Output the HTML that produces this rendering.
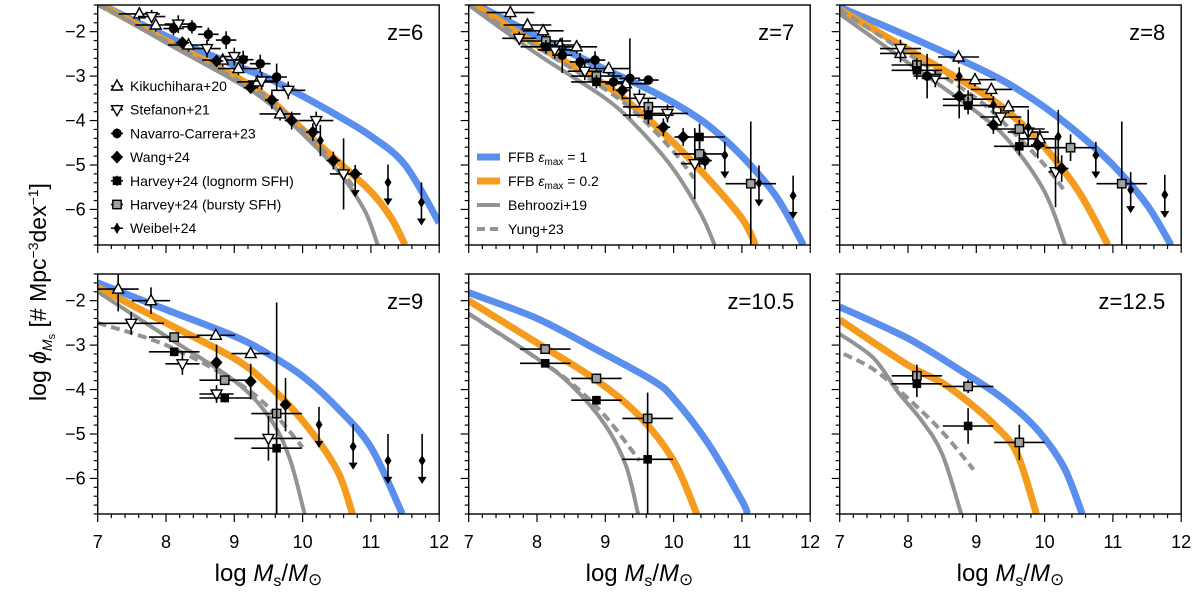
<!DOCTYPE html>
<html><head><meta charset="utf-8"><style>
html,body{margin:0;padding:0;background:#fff;}
svg{display:block;font-family:"Liberation Sans","DejaVu Sans",sans-serif;}
</style></head><body>
<svg id="chart" width="1200" height="600" viewBox="0 0 1200 600" xmlns="http://www.w3.org/2000/svg"></svg>
<script>
// ---- data ----
const panelTitles = ["z=6","z=7","z=8","z=9","z=10.5","z=12.5"];
const xTicks = [7,8,9,10,11,12];
const yTicks = [-2,-3,-4,-5,-6];
const yTickLabels = ["\u22122","\u22123","\u22124","\u22125","\u22126"];
// curves: [logM, logphi]
const ffb1 = [
 [[7,-1.35],[8,-2.1],[9,-2.75],[9.5,-3.05],[10,-3.45],[10.5,-3.88],[11,-4.35],[11.5,-5.0],[12,-6.3]],
 [[7,-1.3],[8,-2.1],[9,-2.85],[9.5,-3.2],[10,-3.6],[10.5,-4.1],[11,-4.8],[11.5,-5.7],[11.9,-6.8]],
 [[7,-1.45],[8,-2.1],[9,-2.8],[9.5,-3.2],[10,-3.7],[10.5,-4.3],[11,-5.0],[11.5,-5.9],[11.85,-6.8]],
 [[7,-1.6],[8,-2.2],[9,-2.8],[9.5,-3.2],[10,-3.7],[10.5,-4.4],[11,-5.3],[11.46,-6.8]],
 [[7,-1.82],[8,-2.4],[8.87,-3.1],[9.7,-3.8],[10,-4.2],[10.5,-5.2],[11,-6.5],[11.08,-6.8]],
 [[7,-2.14],[8,-2.85],[8.8,-3.6],[9.3,-4.1],[9.7,-4.6],[10,-5.1],[10.3,-5.8],[10.55,-6.8]]
];
const ffb02 = [
 [[7,-1.35],[8,-2.2],[9,-3.0],[9.5,-3.5],[10,-4.2],[10.5,-4.9],[11,-5.6],[11.3,-6.2],[11.5,-6.8]],
 [[7,-1.3],[8,-2.3],[9,-3.2],[9.5,-3.8],[10,-4.5],[10.5,-5.3],[11,-6.2],[11.2,-6.8]],
 [[7,-1.5],[8,-2.4],[9,-3.3],[9.5,-3.85],[10,-4.6],[10.5,-5.6],[10.93,-6.8]],
 [[7,-1.7],[8,-2.5],[9,-3.3],[9.5,-3.9],[10,-4.7],[10.5,-5.8],[10.73,-6.8]],
 [[7,-2.0],[8,-2.95],[8.87,-3.79],[9.5,-4.6],[10,-5.6],[10.34,-6.8]],
 [[7,-2.43],[8,-3.45],[8.5,-3.85],[8.9,-4.3],[9.3,-4.85],[9.6,-5.45],[9.88,-6.8]]
];
const behroozi = [
 [[7,-1.35],[8,-2.25],[9,-3.1],[9.5,-3.6],[10,-4.3],[10.5,-5.1],[10.9,-6.0],[11.1,-6.8]],
 [[7,-1.4],[8,-2.5],[9,-3.5],[9.5,-4.2],[10,-5.1],[10.4,-6.1],[10.6,-6.8]],
 [[7,-1.6],[8,-2.7],[9,-3.8],[9.5,-4.5],[10,-5.6],[10.3,-6.8]],
 [[7,-1.8],[8,-2.8],[9,-3.8],[9.5,-4.6],[9.8,-5.5],[10.03,-6.8]],
 [[7,-2.29],[8,-3.3],[8.5,-3.9],[9,-4.8],[9.3,-5.7],[9.48,-6.8]],
 [[7,-2.75],[7.5,-3.3],[7.85,-4.05],[8.2,-4.7],[8.5,-5.45],[8.78,-6.8]]
];
const yung = [
 [[7,-1.4],[8,-2.2],[9,-3.05],[9.5,-3.5],[10,-4.2],[10.5,-5.0],[10.75,-5.5]],
 [[7,-1.4],[8,-2.35],[9,-3.3],[9.5,-3.9],[10,-4.7],[10.3,-5.3]],
 [[7,-1.5],[8,-2.5],[9,-3.5],[9.5,-4.2],[10,-5.0],[10.3,-5.6]],
 [[7,-2.5],[8,-3.0],[9,-3.8],[9.5,-4.4],[10,-5.3]],
 [[7,-2.3],[8,-3.3],[8.5,-3.85],[9,-4.6],[9.5,-5.6]],
 [[7.06,-3.2],[7.5,-3.55],[8,-4.2],[8.5,-4.95],[8.96,-5.8]]
];
// observations: [type, logM, logphi, xerr, yerr, upperLimit]
const obs = [
 [["K",7.61,-1.6,0.3,0.15,0],["K",7.85,-1.85,0.3,0.15,0],["K",8.33,-2.3,0.3,0.15,0],["K",8.83,-2.64,0.3,0.15,0],["K",9.06,-2.83,0.3,0.15,0],["K",9.34,-3.13,0.3,0.15,0],["K",9.67,-3.85,0.3,0.15,0],
  ["S",7.79,-1.66,0.2,0.15,0],["S",8.18,-1.83,0.2,0.2,0],["S",8.6,-2.38,0.2,0.2,0],["S",9.0,-2.56,0.2,0.2,0],["S",9.4,-3.11,0.2,0.2,0],["S",9.79,-3.32,0.25,0.2,0],["S",10.2,-4.0,0.25,0.2,0],["S",10.6,-5.2,0.2,0.8,0],
  ["N",8.11,-1.93,0.15,0.15,0],["N",8.38,-1.89,0.15,0.15,0],["N",8.62,-2.06,0.15,0.15,0],["N",8.88,-2.19,0.15,0.2,0],["N",9.13,-2.63,0.15,0.2,0],["N",9.38,-2.72,0.15,0.2,0],["N",9.62,-3.02,0.15,0.3,0],
  ["W",8.24,-2.25,0.1,0.1,0],["W",8.74,-2.66,0.1,0.1,0],["W",9.24,-3.26,0.1,0.1,0],["W",9.55,-3.54,0.1,0.2,0],["W",9.84,-4.0,0.1,0.2,0],["W",10.15,-4.26,0.1,0.2,0],["W",10.45,-4.9,0.1,0.2,0],["W",10.77,-5.2,0.1,0.2,1],
  ["E",10.26,-4.45,0,0.35,0],["E",11.25,-5.39,0,0.4,1],["E",11.74,-5.84,0,0.45,1]],
 [["K",7.61,-1.57,0.35,0.15,0],["K",7.86,-1.85,0.35,0.15,0],["K",8.09,-1.98,0.3,0.15,0],["K",8.34,-2.3,0.3,0.15,0],["K",8.58,-2.34,0.3,0.15,0],["K",9.05,-2.83,0.3,0.15,0],["K",9.3,-3.17,0.3,0.15,0],
  ["S",7.74,-2.15,0.25,0.15,0],["S",8.26,-2.41,0.25,0.2,0],["S",8.7,-2.89,0.25,0.2,0],["S",9.5,-3.5,0.25,0.2,0],["S",9.91,-3.84,0.3,0.2,0],["S",10.31,-4.97,0.2,0.8,0],
  ["B",8.13,-2.21,0.37,0.15,0],["B",8.87,-3.0,0.37,0.15,0],["B",9.63,-3.69,0.37,0.2,0],["B",10.38,-4.75,0.37,0.3,0],["B",11.13,-5.42,0.37,1.4,0],
  ["H",8.13,-2.34,0.37,0.15,0],["H",8.87,-3.13,0.37,0.15,0],["H",9.63,-3.88,0.37,0.2,0],["H",10.38,-4.37,0.37,0.3,0],
  ["N",8.37,-2.53,0.15,0.4,0],["N",8.63,-2.68,0.15,0.2,0],["N",8.85,-2.64,0.15,0.2,0],["N",9.12,-3.13,0.15,0.2,0],["N",9.36,-3.05,0.15,0.9,0],["N",9.63,-3.09,0.15,0.1,0],
  ["W",9.25,-3.32,0.1,0.2,0],["W",9.85,-4.15,0.1,0.2,0],["W",10.14,-4.37,0.1,0.2,0],["W",10.46,-4.9,0.1,0.2,0],
  ["E",10.75,-4.78,0,0.3,1],["E",11.25,-5.41,0,0.4,1],["E",11.75,-5.69,0,0.45,1]],
 [["K",7.89,-2.49,0.3,0.2,0],["K",8.74,-2.57,0.3,0.15,0],["K",8.98,-3.08,0.3,0.15,0],["K",9.22,-3.3,0.3,0.15,0],["K",9.47,-3.69,0.3,0.15,0],["K",9.93,-4.41,0.3,0.2,0],
  ["S",7.89,-2.38,0.3,0.2,0],["S",8.4,-3.05,0.2,0.2,0],["S",9.36,-3.92,0.3,0.2,0],["S",9.76,-4.26,0.3,0.3,0],["S",10.16,-5.15,0.1,0.8,0],
  ["B",8.13,-2.75,0.37,0.15,0],["B",8.88,-3.52,0.37,0.2,0],["B",9.63,-4.19,0.37,0.2,0],["B",10.38,-4.61,0.37,0.3,0],["B",11.13,-5.42,0.37,1.4,0],
  ["H",8.13,-2.87,0.37,0.2,0],["H",8.88,-3.66,0.37,0.2,0],["H",9.63,-4.58,0.37,0.2,0],
  ["N",8.28,-3.0,0.2,0.5,0],["W",8.75,-3.45,0.1,0.5,0],["W",9.25,-4.1,0.1,0.2,0],["W",9.9,-4.55,0.1,0.3,0],["W",10.25,-5.08,0.1,0.3,0],
  ["E",8.75,-3.0,0,0.2,0],["E",9.25,-3.65,0,0.2,0],["E",9.76,-4.15,0,0.4,0],["E",10.2,-4.36,0,0.6,0],
  ["E",10.75,-4.78,0,0.3,1],["E",11.26,-5.56,0,0.4,1],["E",11.76,-5.67,0,0.45,1]],
 [["K",7.3,-1.74,0.3,0.5,0],["K",7.78,-2.0,0.28,0.3,0],["K",8.73,-2.78,0.28,0.1,0],["K",9.24,-3.19,0.28,0.1,0],
  ["S",7.49,-2.51,0.48,0.25,0],["S",8.24,-3.42,0.25,0.25,0],["S",8.74,-4.1,0.25,0.2,0],["S",9.5,-5.1,0.5,0.5,0],
  ["B",8.12,-2.82,0.37,0.1,0],["B",8.86,-3.79,0.37,0.1,0],["B",9.62,-4.54,0.37,2.5,0],
  ["H",8.12,-3.15,0.37,0.1,0],["H",8.86,-4.19,0.37,0.1,0],["H",9.62,-5.32,0.37,2.0,0],
  ["W",8.74,-3.39,0,0.4,0],["W",9.24,-3.82,0,0.4,0],["W",9.75,-4.34,0,0.6,0],
  ["E",10.24,-4.79,0,0.4,1],["E",10.74,-5.28,0,0.5,1],["E",11.25,-5.6,0,0.6,1],["E",11.75,-5.6,0,0.6,1]],
 [["B",8.12,-3.09,0.37,0.05,0],["B",8.87,-3.75,0.37,0.1,0],["B",9.62,-4.65,0.37,0.2,0],
  ["H",8.12,-3.41,0.37,0.05,0],["H",8.87,-4.24,0.37,0.1,0],["H",9.62,-5.57,0.37,1.5,0]],
 [["B",8.13,-3.69,0.37,0.25,0],["B",8.88,-3.93,0.37,0.15,0],["B",9.63,-5.19,0.37,0.4,0],
  ["H",8.13,-3.87,0.37,0.3,0],["H",8.88,-4.82,0.37,0.4,0]]
];
const legendObsLabels = ["Kikuchihara+20","Stefanon+21","Navarro-Carrera+23","Wang+24","Harvey+24 (lognorm SFH)","Harvey+24 (bursty SFH)","Weibel+24"];
const legendObsTypes = ["K","S","N","W","H","B","E"];

// ---- layout ----
const NS = "http://www.w3.org/2000/svg";
const svg = document.getElementById("chart");
const colL = [97.7,468.7,839.7], rowT = [5,274];
const W = 341.5, H = 240;
const XMIN=7, XMAX=12, YTOP=-1.4, YBOT=-6.8;
const BLUE="#5a8fee", ORANGE="#f59c1e", GRAY="#939393";

function mk(tag, attrs, parent){
  const e = document.createElementNS(NS, tag);
  for (const k in attrs) e.setAttribute(k, attrs[k]);
  (parent||svg).appendChild(e);
  return e;
}
function sx(p,x){ return colL[p%3] + (x-XMIN)*W/(XMAX-XMIN); }
function sy(p,y){ return rowT[Math.floor(p/3)] + (YTOP-y)*H/(YTOP-YBOT); }

function marker(g, type, cx, cy){
  let e;
  if (type==="K"){ e = mk("polygon",{points:`${cx},${cy-6} ${cx-5.5},${cy+4} ${cx+5.5},${cy+4}`,fill:"#fff",stroke:"#000","stroke-width":1.4},g); }
  else if (type==="S"){ e = mk("polygon",{points:`${cx},${cy+6} ${cx-5.5},${cy-4} ${cx+5.5},${cy-4}`,fill:"#fff",stroke:"#000","stroke-width":1.4},g); }
  else if (type==="N"){ e = mk("circle",{cx:cx,cy:cy,r:4.8,fill:"#000"},g); }
  else if (type==="W"){ e = mk("polygon",{points:`${cx},${cy-6.5} ${cx+6},${cy} ${cx},${cy+6.5} ${cx-6},${cy}`,fill:"#000"},g); }
  else if (type==="H"){ e = mk("rect",{x:cx-4.3,y:cy-4.3,width:8.6,height:8.6,fill:"#000"},g); }
  else if (type==="B"){ e = mk("rect",{x:cx-4.2,y:cy-4.2,width:8.4,height:8.4,fill:"#a0a0a0",stroke:"#000","stroke-width":1.4},g); }
  else { e = mk("polygon",{points:`${cx},${cy-5.5} ${cx+3.5},${cy} ${cx},${cy+5.5} ${cx-3.5},${cy}`,fill:"#000"},g); }
  
  
  return e;
}

const defs = mk("defs",{});
for (let p=0;p<6;p++){
  const cp = mk("clipPath",{id:"clip"+p},defs);
  mk("rect",{x:sx(p,XMIN),y:sy(p,YTOP),width:W,height:H},cp);
}

function smoothPath(P){
  let d = `M${P[0][0].toFixed(1)},${P[0][1].toFixed(1)}`;
  for (let i=0;i<P.length-1;i++){
    const p0=P[i-1]||P[i], p1=P[i], p2=P[i+1], p3=P[i+2]||P[i+1];
    const c1=[p1[0]+(p2[0]-p0[0])/6, p1[1]+(p2[1]-p0[1])/6];
    const c2=[p2[0]-(p3[0]-p1[0])/6, p2[1]-(p3[1]-p1[1])/6];
    d += ` C${c1[0].toFixed(1)},${c1[1].toFixed(1)} ${c2[0].toFixed(1)},${c2[1].toFixed(1)} ${p2[0].toFixed(1)},${p2[1].toFixed(1)}`;
  }
  return d;
}

function curve(p, pts, color, width, dash, name){
  const P = pts.map(q=>[sx(p,q[0]), sy(p,q[1])]);
  const a = {d:smoothPath(P),fill:"none",stroke:color,"stroke-width":width,"clip-path":`url(#clip${p})`,"stroke-linejoin":"round"};
  if (dash) a["stroke-dasharray"]=dash;
  const e = mk("path",a);
  
  
}

for (let p=0;p<6;p++){
  const L=colL[p%3], T=rowT[Math.floor(p/3)];
  const frame = mk("rect",{x:L,y:T,width:W,height:H,fill:"#fff",stroke:"none"});
  
  
  curve(p, ffb1[p], BLUE, 7, null, "ffb-emax1-curve");
  curve(p, ffb02[p], ORANGE, 7, null, "ffb-emax02-curve");
  curve(p, behroozi[p], GRAY, 4, null, "behroozi19-curve");
  curve(p, yung[p], GRAY, 4, "9,5", "yung23-curve");
  const g = mk("g",{"clip-path":`url(#clip${p})`});
  
  
  obs[p].forEach(o=>{
    const [t,x,y,xe,ye,ul]=o;
    const cx=sx(p,x), cy=sy(p,y);
    if (xe>0) mk("line",{x1:sx(p,x-xe),x2:sx(p,x+xe),y1:cy,y2:cy,stroke:"#000","stroke-width":1.6},g);
    if (ul){
      mk("line",{x1:cx,x2:cx,y1:sy(p,y+ye),y2:sy(p,y-0.5),stroke:"#000","stroke-width":1.6},g);
      const ay=sy(p,y-0.5);
      mk("polygon",{points:`${cx-4.5},${ay-6} ${cx+4.5},${ay-6} ${cx},${ay+1}`,fill:"#000"},g);
    } else if (ye>0) mk("line",{x1:cx,x2:cx,y1:sy(p,y+ye),y2:sy(p,y-ye),stroke:"#000","stroke-width":1.6},g);
    marker(g,t,cx,cy);
  });
  const border = mk("rect",{x:L,y:T,width:W,height:H,fill:"none",stroke:"#000","stroke-width":1.4});
  
  
  for (let v=7; v<=12.001; v+=0.2){
    const major=Math.abs(v-Math.round(v))<0.01;
    mk("line",{x1:sx(p,v),x2:sx(p,v),y1:T+H,y2:T+H+(major?8:4),stroke:"#000","stroke-width":1.2});
  }
  for (let v=-1.4; v>=-6.801; v-=0.2){
    const major=Math.abs(v-Math.round(v))<0.01;
    mk("line",{x1:L,x2:L-(major?8:4),y1:sy(p,v),y2:sy(p,v),stroke:"#000","stroke-width":1.2});
  }
  if (p>=3){
    xTicks.forEach(v=>{
      const t = mk("text",{x:sx(p,v),y:T+H+34,"text-anchor":"middle","font-size":18});
      t.textContent=v;
      
      
    });
    const xl = mk("text",{x:L+W/2,y:581,"text-anchor":"middle","font-size":24});
    xl.innerHTML='log <tspan font-style="italic">M</tspan><tspan font-size="16" dy="5">s</tspan><tspan dy="-5">/</tspan><tspan font-style="italic">M</tspan><tspan font-size="17" dy="4">\u2299</tspan>';
    
    
  }
  if (p%3===0){
    yTicks.forEach((v,i)=>{
      const t = mk("text",{x:L-12,y:sy(p,v)+6,"text-anchor":"end","font-size":18});
      t.textContent=yTickLabels[i];
      
      
    });
  }
  const tt = mk("text",{x:L+W-16,y:T+35,"text-anchor":"end","font-size":22});
  tt.textContent = panelTitles[p];
  
  
}

const yl = mk("text",{x:0,y:0,"text-anchor":"middle","font-size":23,transform:"translate(46,292) rotate(-90)"});
yl.innerHTML='log <tspan font-style="italic">\u03d5</tspan><tspan font-size="14" dy="6" font-style="italic">M</tspan><tspan font-size="11" dy="3">s</tspan><tspan dy="-9"> [# Mpc</tspan><tspan font-size="14" dy="-8">\u22123</tspan><tspan dy="8">dex</tspan><tspan font-size="14" dy="-8">\u22121</tspan><tspan dy="8">]</tspan>';



const lg1 = mk("g",{});


legendObsLabels.forEach((lab,i)=>{
  const y = 86 + i*23.7;
  mk("line",{x1:111,x2:123,y1:y,y2:y,stroke:"#000","stroke-width":1.5},lg1);
  mk("line",{x1:117,x2:117,y1:y-5,y2:y+5,stroke:"#000","stroke-width":1.5},lg1);
  marker(lg1, legendObsTypes[i], 117, y);
  const t = mk("text",{x:130,y:y+5,"font-size":14},lg1);
  t.textContent = lab;
  
  
});
const lg2 = mk("g",{});


const modelRows = [
 [BLUE,7,null,'FFB <tspan font-style="italic">\u03b5</tspan><tspan font-size="10" dy="3">max</tspan><tspan dy="-3"> = 1</tspan>'],
 [ORANGE,7,null,'FFB <tspan font-style="italic">\u03b5</tspan><tspan font-size="10" dy="3">max</tspan><tspan dy="-3"> = 0.2</tspan>'],
 [GRAY,4,null,'Behroozi+19'],
 [GRAY,4,"8,5",'Yung+23']
];
modelRows.forEach((r,i)=>{
  const y = 157 + i*24;
  const a = {x1:477,x2:500,y1:y,y2:y,stroke:r[0],"stroke-width":r[1]};
  if (r[2]) a["stroke-dasharray"]=r[2];
  mk("line",a,lg2);
  const t = mk("text",{x:508,y:y+5,"font-size":14},lg2);
  t.innerHTML = r[3];
  
  
});
</script>
</body></html>
